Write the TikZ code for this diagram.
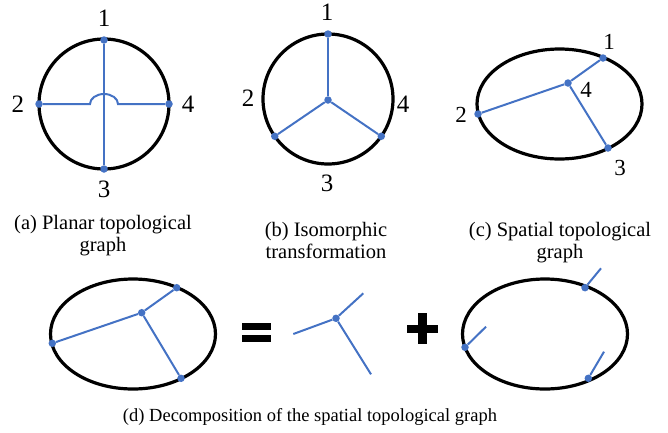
\documentclass[tikz,border=0pt]{standalone}
\usepackage{fontspec}
\setmainfont{Liberation Serif}
\usetikzlibrary{calc}
\begin{document}
\begin{tikzpicture}[x=1pt,y=-1pt,
  ring/.style={draw=black,line width=3.2pt},
  edge/.style={draw=edgeblue,line width=2pt},
  dot/.style={circle,fill=edgeblue,inner sep=0pt,minimum size=7.5pt},
  lbl/.style={font=\fontsize{25}{28}\selectfont,inner sep=0pt},
  lblc/.style={font=\fontsize{23}{26}\selectfont,inner sep=0pt},
  captext/.style={font=\fontsize{20.5}{22}\selectfont,align=center,inner sep=0pt,anchor=base},
  captextd/.style={font=\fontsize{18.5}{22}\selectfont,inner sep=0pt,anchor=base},
  sign/.style={fill=black,draw=none}]
\definecolor{edgeblue}{HTML}{4472C4}
\useasboundingbox (0,0) rectangle (668,432);
% ---------- (a) planar ----------
\draw[ring] (104,104) circle (65pt);
\node[dot] (a1) at (104,40) {};
\node[dot] (a2) at (39,104) {};
\node[dot] (a3) at (104,169) {};
\node[dot] (a4) at (169,104) {};
\coordinate (hopL) at (90,104);
\coordinate (hopR) at (118,104);
\draw[edge] (a1) -- (a3);
\draw[edge] (a2) -- (hopL) arc[start angle=180,end angle=0,x radius=14pt,y radius=10pt] -- (a4);
\node[lbl] (la1) at (104,18) {1};
\node[lbl] (la2) at (18,104) {2};
\node[lbl] (la4) at (188,104) {4};
\node[lbl] (la3) at (104,189) {3};
% ---------- (b) isomorphic ----------
\draw[ring] (328,99) circle (65pt);
\node[dot] (b1) at (328,34) {};
\node[dot] (bc) at (328,100) {};
\node[dot] (b2) at ($(328,99)+(215:65pt)$) {};
\node[dot] (b4) at ($(328,99)+(325:65pt)$) {};
\draw[edge] (bc) -- (b1);
\draw[edge] (bc) -- (b2);
\draw[edge] (bc) -- (b4);
\node[lbl] (lb1) at (327,12) {1};
\node[lbl] (lb2) at (248,98) {2};
\node[lbl] (lb4) at (403,104) {4};
\node[lbl] (lb3) at (327,183) {3};
% ---------- (c) spatial ----------
\draw[ring] (559.5,104) ellipse[x radius=82.5pt,y radius=55pt];
\node[dot] (c1) at (603,58) {};
\node[dot] (c4) at (568,83) {};
\node[dot] (c2) at (478,114) {};
\node[dot] (c3) at (608,148) {};
\draw[edge] (c4) -- (c1);
\draw[edge] (c4) -- (c2);
\draw[edge] (c4) -- (c3);
\node[lblc] (lc1) at (609,42) {1};
\node[lblc] (lc4) at (586,90) {4};
\node[lblc] (lc2) at (461,115) {2};
\node[lblc] (lc3) at (620,168) {3};
% ---------- captions ----------
\node[captext] (capa) at (103,251) {(a) Planar topological\\graph};
\node[captext] (capb) at (326,258) {(b) Isomorphic\\transformation};
\node[captext] (capc) at (560,258) {(c) Spatial topological\\graph};
% ---------- (d) decomposition ----------
\draw[ring] (133,334) ellipse[x radius=82.5pt,y radius=55pt];
\node[dot] (d1) at (176.7,287.7) {};
\node[dot] (d4) at (141.7,312.7) {};
\node[dot] (d2) at (52.3,343.3) {};
\node[dot] (d3) at (181,378.3) {};
\draw[edge] (d4) -- (d1);
\draw[edge] (d4) -- (d2);
\draw[edge] (d4) -- (d3);
% equals sign
\fill[sign] (241.7,322.7) rectangle (270.7,330);
\fill[sign] (241.7,335) rectangle (270.7,342.3);
% star
\node[dot] (s4) at (336,318.3) {};
\coordinate (s2) at (293.3,334);
\coordinate (s1) at (363.3,293.3);
\coordinate (s3) at (371,374.3);
\draw[edge] (s4) -- (s1);
\draw[edge] (s4) -- (s2);
\draw[edge] (s4) -- (s3);
% plus sign
\fill[sign] (406.7,324.5) rectangle (437.7,332.8);
\fill[sign] (417.7,313.3) rectangle (426.7,344);
% ring with stubs
\draw[ring] (545,334) ellipse[x radius=82.5pt,y radius=55pt];
\node[dot] (r1) at (585,287.7) {};
\node[dot] (r2) at (465,347.3) {};
\node[dot] (r3) at (588.3,378.3) {};
\coordinate (t1) at (601,268.3);
\coordinate (t2) at (486,326.7);
\coordinate (t3) at (604,351.7);
\draw[edge] (r1) -- (t1);
\draw[edge] (r2) -- (t2);
\draw[edge] (r3) -- (t3);
\node[captextd] (capd) at (310,421) {(d) Decomposition of the spatial topological graph};
\end{tikzpicture}
\end{document}
